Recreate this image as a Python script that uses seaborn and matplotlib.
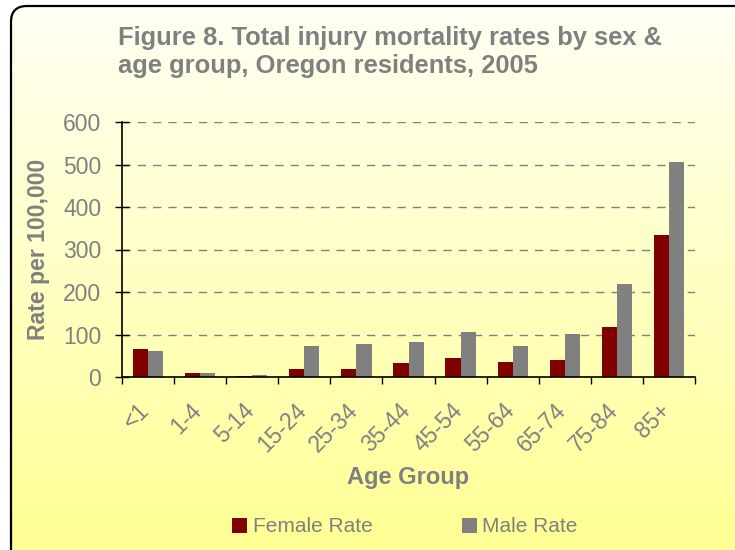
import numpy as np
import pandas as pd
import seaborn as sns
import matplotlib.pyplot as plt
from matplotlib.patches import FancyBboxPatch
from matplotlib.transforms import ScaledTranslation

age_groups = ['<1', '1-4', '5-14', '15-24', '25-34', '35-44', '45-54',
              '55-64', '65-74', '75-84', '85+']
female_rate = [66, 10, 3, 19, 19, 32, 44, 35, 41, 117, 333]
male_rate = [61, 10, 5, 73, 78, 82, 107, 74, 102, 220, 505]

title_lines = ['Figure 8. Total injury mortality rates by sex &',
               'age group, Oregon residents, 2005']


def main():
    sns.set_style('white')
    plt.rcParams['font.family'] = ['Liberation Sans', 'DejaVu Sans']
    grey = '#808080'

    df = pd.DataFrame({
        'Age Group': age_groups * 2,
        'Rate': female_rate + male_rate,
        'Sex': ['Female Rate'] * len(age_groups) + ['Male Rate'] * len(age_groups),
    })

    fig = plt.figure(figsize=(7.35, 5.5), dpi=100, facecolor='white')

    # chart area: rounded box with a yellow gradient, running off the right/bottom edge
    bg = fig.add_axes([0, 0, 1, 1], zorder=-10)
    bg.set_xlim(0, 735)
    bg.set_ylim(550, 0)
    bg.axis('off')
    box = FancyBboxPatch((11, 6), 745, 560,
                         boxstyle='round,pad=0,rounding_size=16',
                         facecolor='none', edgecolor='black', linewidth=1.6)
    bg.add_patch(box)
    grad = np.linspace(0, 1, 256).reshape(-1, 1)
    top = np.array([1.0, 1.0, 0.96])
    bottom = np.array([1.0, 1.0, 0.58])
    img = top + (bottom - top) * grad[:, :, None]
    im = bg.imshow(img, aspect='auto', extent=[0, 735, 550, 0], zorder=0)
    im.set_clip_path(box)
    box.set_zorder(1)

    ax = fig.add_axes([122 / 735, 1 - 377 / 550, 573 / 735, 255 / 550])
    ax.patch.set_alpha(0)
    sns.barplot(data=df, x='Age Group', y='Rate', hue='Sex',
                palette=['#800000', grey], width=0.58, saturation=1,
                linewidth=0, edgecolor='none', ax=ax, legend=True)

    ax.set_ylim(0, 600)
    ax.set_xlim(-0.5, len(age_groups) - 0.5)
    ax.set_yticks(range(0, 601, 100))
    ax.yaxis.grid(True, linestyle=(0, (6, 5)), color=grey, linewidth=1)
    ax.set_axisbelow(True)
    for s in ['top', 'right']:
        ax.spines[s].set_visible(False)
    for s in ['left', 'bottom']:
        ax.spines[s].set_color('black')
        ax.spines[s].set_linewidth(1.2)

    ax.tick_params(axis='y', length=10, width=1, color='black', direction='inout',
                   labelsize=16.5, labelcolor=grey, left=True, pad=10)
    ax.set_xticks(range(len(age_groups)))
    ax.set_xticks(np.arange(-0.5, len(age_groups)), minor=True)
    ax.tick_params(axis='x', which='major', length=0, labelsize=16.5,
                   labelcolor=grey, pad=16)
    ax.tick_params(axis='x', which='minor', length=5, width=1, color='black',
                   direction='out', bottom=True)
    ax.set_xticklabels(age_groups, rotation=45, ha='right', va='top',
                       rotation_mode='anchor')
    shift = ScaledTranslation(-10 / 100, 0, fig.dpi_scale_trans)
    for lab in ax.get_xticklabels():
        lab.set_transform(lab.get_transform() + shift)

    ax.set_xlabel('Age Group', fontsize=17, fontweight='bold', color=grey,
                  va='top')
    ax.xaxis.set_label_coords(0.5, (377 - 466) / 255)
    ax.set_ylabel('Rate per 100,000', fontsize=16.6, fontweight='bold', color=grey)
    ax.yaxis.set_label_coords((50 - 122) / 573, 0.5)

    handles, labels = ax.get_legend_handles_labels()
    ax.get_legend().remove()
    fig.legend(handles, labels, loc='center', bbox_to_anchor=(405 / 735, 1 - 527 / 550),
               ncol=2, frameon=False, fontsize=15, labelcolor=grey,
               handlelength=0.72, handleheight=0.72, columnspacing=4.3,
               handletextpad=0.25)

    for i, line in enumerate(title_lines):
        fig.text(118 / 735, 1 - (45 + 28 * i) / 550, line,
                 fontsize=18.4, fontweight='bold', color=grey,
                 va='baseline', ha='left')

    fig.savefig('out.png', dpi=100, facecolor='white')


if __name__ == "__main__":
    main()
